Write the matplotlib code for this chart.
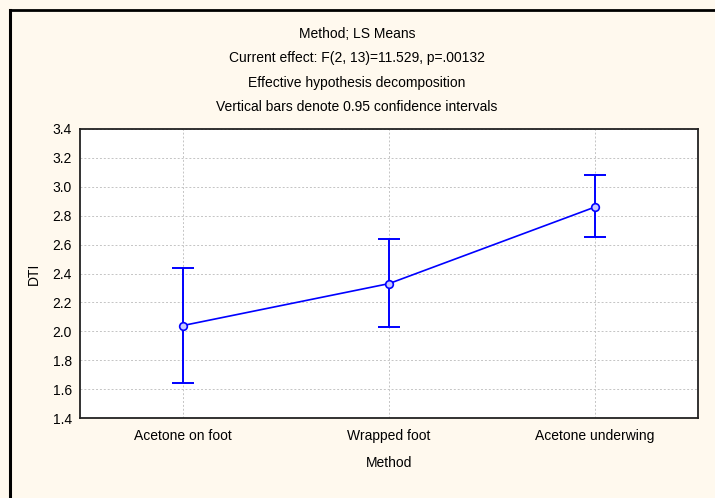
import matplotlib
matplotlib.use("Agg")
import matplotlib.pyplot as plt
from matplotlib.lines import Line2D

plt.rcParams['font.family'] = ['Liberation Sans', 'DejaVu Sans']

# LS means of DTI by method, with 95% confidence limits
methods = ["Acetone on foot", "Wrapped foot", "Acetone underwing"]
means = [2.04, 2.33, 2.86]
ci_lower = [1.645, 2.03, 2.655]
ci_upper = [2.44, 2.64, 3.08]

title_lines = [
    "Method; LS Means",
    "Current effect: F(2, 13)=11.529, p=.00132",
    "Effective hypothesis decomposition",
    "Vertical bars denote 0.95 confidence intervals",
]
y_ticks = [1.4, 1.6, 1.8, 2.0, 2.2, 2.4, 2.6, 2.8, 3.0, 3.2, 3.4]

W, H = 715, 498
bg = "#FFF9EE"
fs = 10
fig = plt.figure(figsize=(W / 100, H / 100), dpi=100, facecolor=bg)
ax = fig.add_axes([80 / W, 1 - 418 / H, 618 / W, 289 / H])
ax.set_facecolor("white")

x = list(range(len(methods)))
err_lo = [m - lo for m, lo in zip(means, ci_lower)]
err_hi = [hi - m for m, hi in zip(means, ci_upper)]

ax.errorbar(x, means, yerr=[err_lo, err_hi], fmt="none", ecolor="#0000FF",
            elinewidth=1.4, capsize=8, capthick=1.4, zorder=3)
ax.plot(x, means, color="#0000FF", linewidth=1.2, marker="o", markersize=5.5,
        markerfacecolor="#C8C8FF", markeredgecolor="#0000FF",
        markeredgewidth=1.2, zorder=4)

ax.set_xlim(-0.5, 2.5)
ax.set_ylim(1.4, 3.4)
ax.set_xticks(x)
ax.set_xticklabels(methods, fontsize=fs)
ax.set_yticks(y_ticks)
ax.set_yticklabels([f"{v:.1f}" for v in y_ticks], fontsize=fs)
ax.tick_params(axis="x", length=0, pad=8)
ax.tick_params(axis="y", length=0, pad=6)
ax.grid(True, color="#C4C4C4", linestyle=(0, (2, 2)), linewidth=0.7)
ax.set_axisbelow(True)
for sp in ax.spines.values():
    sp.set_color("#222222")
    sp.set_linewidth(1.3)

ax.set_xlabel("Method", fontsize=fs, labelpad=9)
ax.set_ylabel("DTI", fontsize=fs, labelpad=8)

# stacked header lines
for i, line in enumerate(title_lines):
    fig.text(357 / W, 1 - (34 + 24.3 * i) / H, line, ha="center", va="center",
             fontsize=fs)

# panel frame along the top and left edges
fig.add_artist(Line2D([9.5 / W, 1.0], [1 - 10 / H, 1 - 10 / H],
                      transform=fig.transFigure, color="black", linewidth=2.0))
fig.add_artist(Line2D([9.5 / W, 9.5 / W], [0.0, 1 - 10 / H],
                      transform=fig.transFigure, color="black", linewidth=2.2))

fig.savefig("out.png", dpi=100, facecolor=bg)
